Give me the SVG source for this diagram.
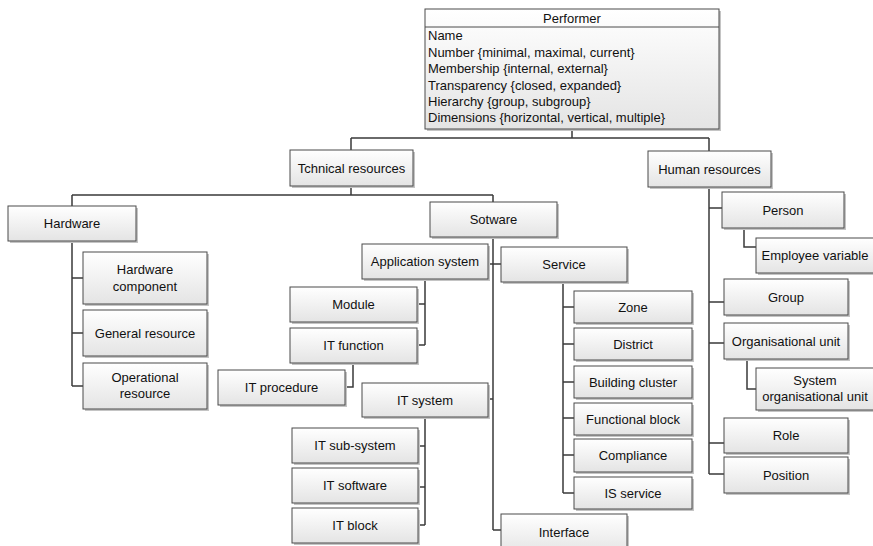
<svg xmlns="http://www.w3.org/2000/svg" width="873" height="546" viewBox="0 0 873 546">
<defs>
<linearGradient id="g" x1="0" y1="0" x2="0" y2="1">
<stop offset="0" stop-color="#ffffff"/>
<stop offset="1" stop-color="#e4e4e4"/>
</linearGradient>
</defs>
<style>
.b{fill:url(#g);stroke:#4a4a4a;stroke-width:1}
.s{fill:#c4c4c4}
.t{font-family:"Liberation Sans",Arial,sans-serif;font-size:13px;fill:#111;text-anchor:middle}
.l{font-family:"Liberation Sans",Arial,sans-serif;font-size:13px;fill:#111}
.c{fill:none;stroke:#3a3a3a;stroke-width:1.5}
</style>
<rect width="873" height="546" fill="#fff"/>
<g id="connectors">
<path class="c" d="M572,129V138M351,138H709M351,138V150M709,138V151"/>
<path class="c" d="M351,186V195M72,195H493M72,195V206M493,195V202"/>
<path class="c" d="M72,241V386M72,278H83M72,333H83M72,386H83"/>
<path class="c" d="M493,237V530M488,264H501M488,399H493M493,530H501"/>
<path class="c" d="M425,279V345M417,304H425M417,345H425"/>
<path class="c" d="M353,363V387H345"/>
<path class="c" d="M425,417V525M418,446H425M418,487H425M418,525H425"/>
<path class="c" d="M563,282V493M563,307H574M563,344H574M563,382H574M563,418H574M563,455H574M563,493H574"/>
<path class="c" d="M709,187V474M709,208H722M709,302H724M709,343H724M709,443H724M709,474H724"/>
<path class="c" d="M744,228V247H756"/>
<path class="c" d="M747,359V389H756"/>
</g>
<g id="performer">
<rect class="s" x="427" y="11" width="294" height="120"/>
<rect class="b" x="425" y="9" width="294" height="120"/>
<line x1="425" y1="27" x2="719" y2="27" stroke="#4a4a4a" stroke-width="1"/>
<text class="t" x="572" y="23">Performer</text>
<text class="l" x="428" y="40">Name</text>
<text class="l" x="428" y="56.5">Number {minimal, maximal, current}</text>
<text class="l" x="428" y="73">Membership {internal, external}</text>
<text class="l" x="428" y="89.5">Transparency {closed, expanded}</text>
<text class="l" x="428" y="105.5">Hierarchy {group, subgroup}</text>
<text class="l" x="428" y="122">Dimensions {horizontal, vertical, multiple}</text>
</g>
<g id="tech"><rect class="s" x="292" y="152" width="123" height="36"/><rect class="b" x="290" y="150" width="123" height="36"/><text class="t" x="351.5" y="172.5">Tchnical resources</text></g>
<g id="human"><rect class="s" x="650" y="153" width="123" height="36"/><rect class="b" x="648" y="151" width="123" height="36"/><text class="t" x="709.5" y="173.5">Human resources</text></g>
<g id="hardware"><rect class="s" x="10" y="208" width="128" height="35"/><rect class="b" x="8" y="206" width="128" height="35"/><text class="t" x="72" y="228">Hardware</text></g>
<g id="hwcomp"><rect class="s" x="85" y="254" width="124" height="52"/><rect class="b" x="83" y="252" width="124" height="52"/><text class="t" x="145" y="274">Hardware</text><text class="t" x="145" y="291">component</text></g>
<g id="genres"><rect class="s" x="85" y="312" width="124" height="46"/><rect class="b" x="83" y="310" width="124" height="46"/><text class="t" x="145" y="337.5">General resource</text></g>
<g id="opres"><rect class="s" x="85" y="365" width="124" height="46"/><rect class="b" x="83" y="363" width="124" height="46"/><text class="t" x="145" y="382">Operational</text><text class="t" x="145" y="398">resource</text></g>
<g id="sotware"><rect class="s" x="432" y="204" width="127" height="35"/><rect class="b" x="430" y="202" width="127" height="35"/><text class="t" x="493.5" y="224">Sotware</text></g>
<g id="appsys"><rect class="s" x="364" y="246" width="126" height="35"/><rect class="b" x="362" y="244" width="126" height="35"/><text class="t" x="425" y="266">Application system</text></g>
<g id="module"><rect class="s" x="292" y="289" width="127" height="35"/><rect class="b" x="290" y="287" width="127" height="35"/><text class="t" x="353.5" y="309">Module</text></g>
<g id="itfunction"><rect class="s" x="292" y="330" width="127" height="35"/><rect class="b" x="290" y="328" width="127" height="35"/><text class="t" x="353.5" y="350">IT function</text></g>
<g id="itprocedure"><rect class="s" x="220" y="372" width="127" height="35"/><rect class="b" x="218" y="370" width="127" height="35"/><text class="t" x="281.5" y="392">IT procedure</text></g>
<g id="itsystem"><rect class="s" x="364" y="385" width="126" height="34"/><rect class="b" x="362" y="383" width="126" height="34"/><text class="t" x="425" y="404.5">IT system</text></g>
<g id="itsubsystem"><rect class="s" x="294" y="430" width="126" height="35"/><rect class="b" x="292" y="428" width="126" height="35"/><text class="t" x="355" y="450">IT sub-system</text></g>
<g id="itsoftware"><rect class="s" x="294" y="470" width="126" height="35"/><rect class="b" x="292" y="468" width="126" height="35"/><text class="t" x="355" y="490">IT software</text></g>
<g id="itblock"><rect class="s" x="294" y="510" width="126" height="35"/><rect class="b" x="292" y="508" width="126" height="35"/><text class="t" x="355" y="530">IT block</text></g>
<g id="service"><rect class="s" x="503" y="249" width="126" height="35"/><rect class="b" x="501" y="247" width="126" height="35"/><text class="t" x="564" y="269">Service</text></g>
<g id="zone"><rect class="s" x="576" y="293" width="118" height="32"/><rect class="b" x="574" y="291" width="118" height="32"/><text class="t" x="633" y="311.5">Zone</text></g>
<g id="district"><rect class="s" x="576" y="330" width="118" height="32"/><rect class="b" x="574" y="328" width="118" height="32"/><text class="t" x="633" y="348.5">District</text></g>
<g id="building"><rect class="s" x="576" y="368" width="118" height="32"/><rect class="b" x="574" y="366" width="118" height="32"/><text class="t" x="633" y="386.5">Building cluster</text></g>
<g id="functional"><rect class="s" x="576" y="405" width="118" height="32"/><rect class="b" x="574" y="403" width="118" height="32"/><text class="t" x="633" y="423.5">Functional block</text></g>
<g id="compliance"><rect class="s" x="576" y="441" width="118" height="33"/><rect class="b" x="574" y="439" width="118" height="33"/><text class="t" x="633" y="460">Compliance</text></g>
<g id="isservice"><rect class="s" x="576" y="479" width="118" height="32"/><rect class="b" x="574" y="477" width="118" height="32"/><text class="t" x="633" y="497.5">IS service</text></g>
<g id="interface"><rect class="s" x="503" y="516" width="126" height="40"/><rect class="b" x="501" y="514" width="126" height="40"/><text class="t" x="564" y="536.5">Interface</text></g>
<g id="person"><rect class="s" x="724" y="194" width="122" height="36"/><rect class="b" x="722" y="192" width="122" height="36"/><text class="t" x="783" y="214.5">Person</text></g>
<g id="employee"><rect class="s" x="758" y="240" width="118" height="35"/><rect class="b" x="756" y="238" width="118" height="35"/><text class="t" x="815" y="260">Employee variable</text></g>
<g id="group"><rect class="s" x="726" y="281" width="124" height="36"/><rect class="b" x="724" y="279" width="124" height="36"/><text class="t" x="786" y="301.5">Group</text></g>
<g id="orgunit"><rect class="s" x="726" y="325" width="124" height="36"/><rect class="b" x="724" y="323" width="124" height="36"/><text class="t" x="786" y="345.5">Organisational unit</text></g>
<g id="sysorgunit"><rect class="s" x="758" y="370" width="118" height="42"/><rect class="b" x="756" y="368" width="118" height="42"/><text class="t" x="815" y="384.5">System</text><text class="t" x="815" y="400.5">organisational unit</text></g>
<g id="role"><rect class="s" x="726" y="420" width="124" height="35"/><rect class="b" x="724" y="418" width="124" height="35"/><text class="t" x="786" y="440">Role</text></g>
<g id="position"><rect class="s" x="726" y="459" width="124" height="36"/><rect class="b" x="724" y="457" width="124" height="36"/><text class="t" x="786" y="479.5">Position</text></g>
</svg>
